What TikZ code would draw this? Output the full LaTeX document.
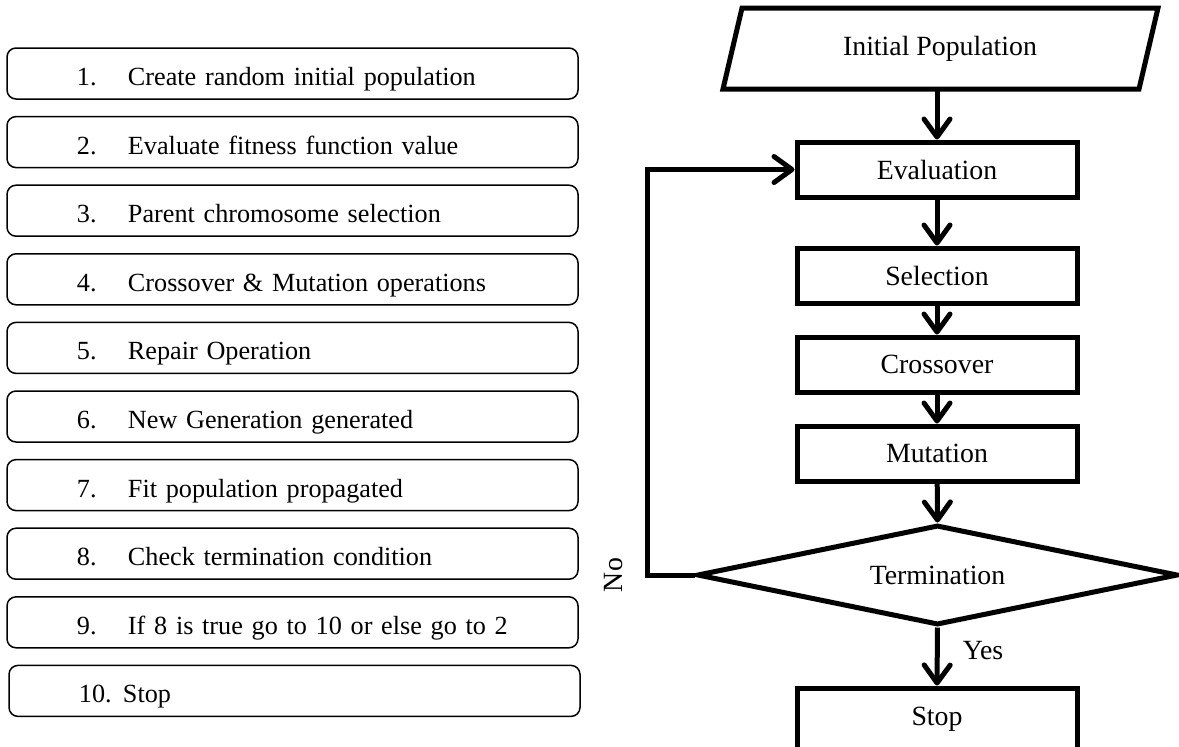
\documentclass[tikz,border=0pt]{standalone}
\usepackage{fontspec}
\setmainfont{Liberation Serif}
\usetikzlibrary{arrows.meta,shapes.geometric}
\newcommand{\stepitem}[3][25.5pt]{\hspace*{35pt}\makebox[#1][l]{#2}#3}
\begin{document}
\begin{tikzpicture}[x=0.5pt,y=-0.5pt,
  every node/.style={font=\fontsize{13.9pt}{16pt}\selectfont},
  lbox/.style={draw, line width=0.75pt, rounded corners=4.5pt,
    font=\fontsize{13.1pt}{16pt}\selectfont,
    minimum height=25.5pt, text width=285.5pt, inner xsep=0pt, align=left,
    text height=13pt, text depth=1pt},
  fbox/.style={draw, line width=2.5pt, minimum width=140pt, minimum height=27.5pt, inner sep=0pt},
  fline/.style={line width=2.5pt, line join=miter},
  arr/.style={line width=2.5pt, -{Straight Barb[length=9pt,width=13pt,round]}}
]
\useasboundingbox (0,0) rectangle (1179,746);
% left list
\node[lbox] (s1)  at (292.5, 73.5) {\stepitem{1.}{Create random initial population}};
\node[lbox] (s2)  at (292.5,142.1) {\stepitem{2.}{Evaluate fitness function value}};
\node[lbox] (s3)  at (292.5,210.7) {\stepitem{3.}{Parent chromosome selection}};
\node[lbox] (s4)  at (292.5,279.3) {\stepitem{4.}{Crossover \& Mutation operations}};
\node[lbox] (s5)  at (292.5,347.9) {\stepitem{5.}{Repair Operation}};
\node[lbox] (s6)  at (292.5,416.5) {\stepitem{6.}{New Generation generated}};
\node[lbox] (s7)  at (292.5,485.1) {\stepitem{7.}{Fit population propagated}};
\node[lbox] (s8)  at (292.5,553.7) {\stepitem{8.}{Check termination condition}};
\node[lbox] (s9)  at (292.5,622.3) {\stepitem{9.}{If 8 is true go to 10 or else go to 2}};
\node[lbox] (s10) at (294.5,690.9) {\stepitem[22pt]{10.}{Stop}};
% flowchart
\node (init) at (940,48.5) {Initial Population};
\draw[fline] (723,89) -- (742,8) -- (1158,8) -- (1139,89) -- cycle;
\coordinate (initb) at (937,89);
\node[fbox] (eval) at (937,169.5) {Evaluation};
\node[fbox] (sel)  at (937,275.5) {Selection};
\node[fbox] (cro)  at (937,364.5) {Crossover};
\node[fbox] (mut)  at (937,453.5) {Mutation};
\node[draw, line width=2.5pt, shape=diamond, aspect=4.8, minimum width=240.5pt, minimum height=50pt, inner sep=0pt] (term) at (937.5,575) {Termination};
\node[fbox, minimum height=31pt] (stop) at (937,719) {Stop};
\node (yes) at (983,651) {Yes};
\node[rotate=90] (no) at (614,575) {No};
\coordinate (loopc) at (647,575);
\draw[arr] (initb) -- (eval.north);
\draw[arr] (eval) -- (sel);
\draw[arr] (sel) -- (cro);
\draw[arr] (cro) -- (mut);
\draw[arr] (mut) -- (term.north);
\draw[arr] (term.south) -- (stop.north);
\draw[arr, line join=miter] (term.west) -- (loopc) |- (eval.west);
\end{tikzpicture}
\end{document}
